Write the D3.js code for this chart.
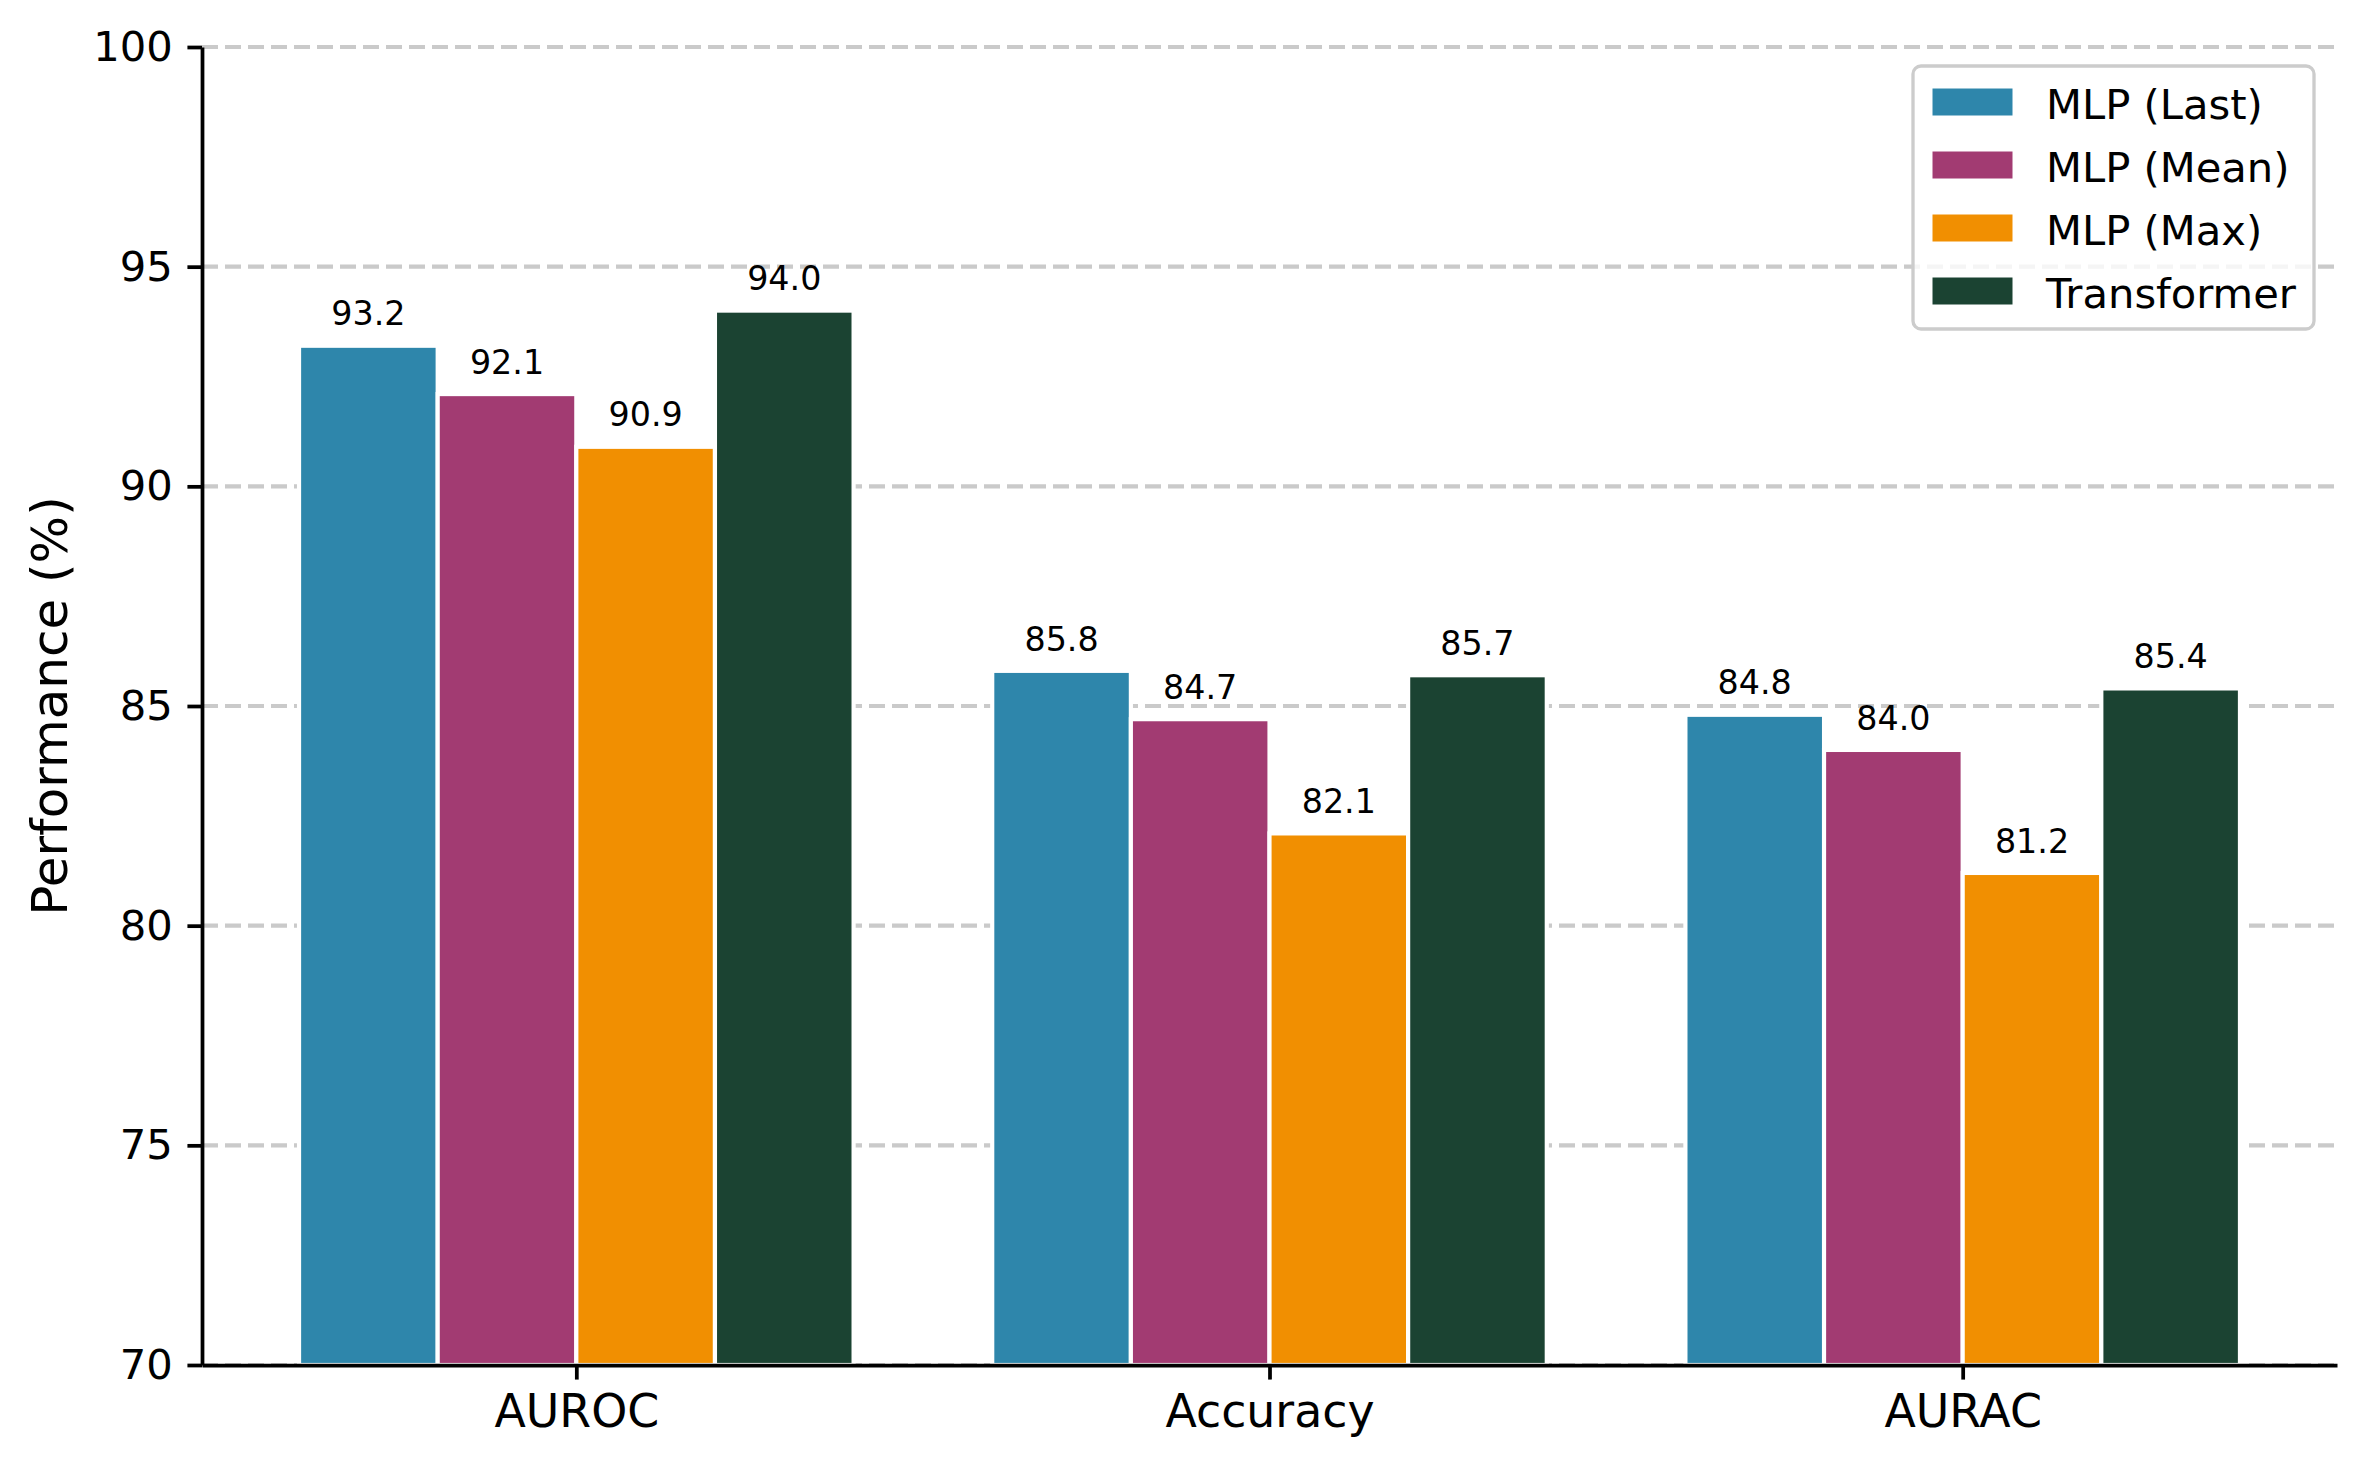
<!DOCTYPE html>
<html>
<head>
<meta charset="utf-8">
<script src="https://cdn.jsdelivr.net/npm/d3@7"></script>
<style>
  body { margin: 0; background: #fff; }
  svg { display: block; font-family: "DejaVu Sans", sans-serif; }
</style>
</head>
<body>
<div id="chart"></div>
<script>
// Data
const categories = ['AUROC', 'Accuracy', 'AURAC'];
const seriesNames = ['MLP (Last)', 'MLP (Mean)', 'MLP (Max)', 'Transformer'];
const mlpLast = [93.2, 85.8, 84.8];
const mlpMean = [92.1, 84.7, 84.0];
const mlpMax = [90.9, 82.1, 81.2];
const transformer = [94.0, 85.7, 85.4];
const yTicks = [70, 75, 80, 85, 90, 95, 100];
const colors = ['#2E86AB', '#A23B72', '#F18F01', '#1B4332'];

const series = [mlpLast, mlpMean, mlpMax, transformer];

const width = 2364;
const height = 1469;
const plot = { left: 202, right: 2337, top: 47, bottom: 1365 };
const barWidth = 0.2;
const pt = 300 / 72; // figure was rendered at 300 dpi
const fontFamily = '"DejaVu Sans", sans-serif';

const svg = d3.select('#chart')
  .append('svg')
  .attr('width', width)
  .attr('height', height);

// Scales (category index on x, like matplotlib's bar positions)
const xScale = d3.scaleLinear()
  .domain([-0.54, categories.length - 1 + 0.54])
  .range([plot.left, plot.right]);

const yScale = d3.scaleLinear()
  .domain([70, 100])
  .range([plot.bottom, plot.top]);

// Horizontal dashed grid
svg.append('g')
  .selectAll('line')
  .data(yTicks)
  .enter().append('line')
  .attr('x1', plot.left)
  .attr('x2', plot.right)
  .attr('y1', d => yScale(d))
  .attr('y2', d => yScale(d))
  .attr('stroke', '#cacaca')
  .attr('stroke-width', 1 * pt)
  .attr('stroke-dasharray', '16,7');

// Bars
series.forEach((values, s) => {
  const offset = (s - 1.5) * barWidth;
  const g = svg.append('g');
  g.selectAll('rect')
    .data(values)
    .enter().append('rect')
    .attr('x', (d, i) => xScale(i + offset - barWidth / 2))
    .attr('y', d => yScale(d))
    .attr('width', xScale(barWidth) - xScale(0))
    .attr('height', d => yScale(70) - yScale(d))
    .attr('fill', colors[s])
    .attr('stroke', '#fff')
    .attr('stroke-width', 1 * pt);

  // value labels, 3pt above the bar
  g.selectAll('text')
    .data(values)
    .enter().append('text')
    .attr('x', (d, i) => xScale(i + offset))
    .attr('y', d => yScale(d) - 3 * pt - 7.8)
    .attr('text-anchor', 'middle')
    .style('font-size', `${8 * pt}px`)
    .attr('fill', '#000')
    .text(d => d.toFixed(1));
});

// X axis
const xAxis = svg.append('g')
  .attr('transform', `translate(0,${plot.bottom})`)
  .call(d3.axisBottom(xScale)
    .tickValues(d3.range(categories.length))
    .tickFormat(i => categories[i])
    .tickSize(3.5 * pt)
    .tickPadding(3.5 * pt)
    .tickSizeOuter(0));
xAxis.attr('font-family', fontFamily);
xAxis.selectAll('text').style('font-size', `${11 * pt}px`).attr('fill', '#000');

// Y axis
const yAxis = svg.append('g')
  .attr('transform', `translate(${plot.left},0)`)
  .call(d3.axisLeft(yScale)
    .tickValues(yTicks)
    .tickFormat(d3.format('d'))
    .tickSize(3.5 * pt)
    .tickPadding(3.5 * pt)
    .tickSizeOuter(0));
yAxis.attr('font-family', fontFamily);
yAxis.selectAll('text').style('font-size', `${10 * pt}px`).attr('fill', '#000');

[xAxis, yAxis].forEach(ax => {
  ax.select('.domain').attr('stroke', '#000').attr('stroke-width', 0.9 * pt);
  ax.selectAll('.tick line').attr('stroke', '#000').attr('stroke-width', 0.9 * pt);
});

// Y label
svg.append('text')
  .attr('transform', `translate(67,${(plot.top + plot.bottom) / 2}) rotate(-90)`)
  .attr('text-anchor', 'middle')
  .style('font-size', `${12 * pt}px`)
  .attr('fill', '#000')
  .text('Performance (%)');

// Legend
const legend = svg.append('g');
legend.append('rect')
  .attr('x', 1913)
  .attr('y', 66)
  .attr('width', 401)
  .attr('height', 263)
  .attr('rx', 8)
  .attr('fill', '#fff')
  .attr('fill-opacity', 0.8)
  .attr('stroke', '#cccccc')
  .attr('stroke-width', 0.8 * pt);

seriesNames.forEach((name, i) => {
  const cy = 102 + i * 63;
  legend.append('rect')
    .attr('x', 1932)
    .attr('y', cy - 14)
    .attr('width', 81)
    .attr('height', 28)
    .attr('fill', colors[i])
    .attr('stroke', '#fff')
    .attr('stroke-width', 1);
  legend.append('text')
    .attr('x', 2046)
    .attr('y', cy + 17)
    .style('font-size', `${10 * pt}px`)
    .attr('fill', '#000')
    .text(name);
});
</script>
</body>
</html>
